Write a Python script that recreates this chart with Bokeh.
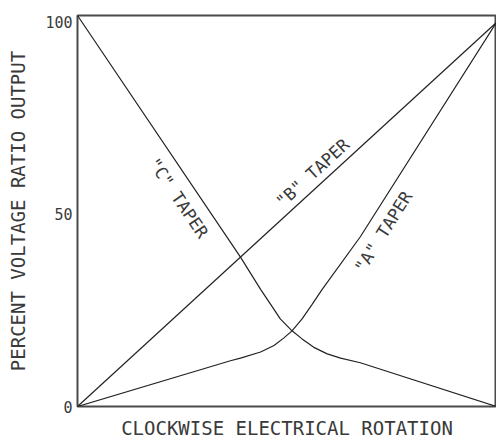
from bokeh.plotting import figure
from bokeh.models import Range1d, FixedTicker
from bokeh.core.properties import value
from bokeh.embed import file_html
from bokeh.resources import INLINE
import math

# ---- data (percent rotation vs percent output) ----
b_x = [0, 100]
b_taper = [0, 100]

a_x = [0, 36.5, 38.9, 43.7, 46.9, 49.2, 51.2, 53.6, 56.0, 58.4, 67.5, 100]
a_taper = [0, 11.9, 12.6, 14.2, 15.9, 17.8, 19.7, 22.8, 26.6, 30.5, 44.2, 100]

c_x = [0, 38.9, 43.7, 46.1, 48.4, 51.2, 53.6, 56.4, 59.6, 62.8, 67.5, 100]
c_taper = [101.8, 38.9, 30.5, 26.6, 22.8, 19.7, 17.6, 15.4, 13.7, 12.6, 11.4, 0]

y_ticks = [0, 50, 100]
x_title = "CLOCKWISE ELECTRICAL ROTATION"
y_title = "PERCENT VOLTAGE RATIO OUTPUT"
labels = ['"A" TAPER', '"B" TAPER', '"C" TAPER']

FONT = "DejaVu Sans Mono"
LINE = "#222222"
TXT = "#3a3a3a"

p = figure(width=496, height=441, output_backend="svg", toolbar_location=None,
           x_range=Range1d(0, 100), y_range=Range1d(0, 101.8),
           min_border_left=77, min_border_top=15, min_border_right=0, min_border_bottom=33)

p.background_fill_color = "white"
p.border_fill_color = "white"
p.outline_line_color = "#4a4a4a"
p.outline_line_width = 2
p.grid.visible = False

# axes
p.xaxis.ticker = FixedTicker(ticks=[])
p.yaxis.ticker = FixedTicker(ticks=y_ticks)
for ax in (p.xaxis[0], p.yaxis[0]):
    ax.axis_line_color = None
    ax.major_tick_line_color = None
    ax.minor_tick_line_color = None
    ax.major_tick_out = 0
    ax.major_tick_in = 0
    ax.minor_tick_out = 0
    ax.minor_tick_in = 0
    ax.major_label_text_font = FONT
    ax.major_label_text_font_size = "15px"
    ax.major_label_text_color = TXT
    ax.axis_label_text_font = FONT
    ax.axis_label_text_font_size = "19px"
    ax.axis_label_text_font_style = "normal"
    ax.axis_label_text_color = TXT
p.xaxis.axis_label = x_title
p.yaxis.axis_label = y_title
p.xaxis.axis_label_standoff = 10
p.yaxis.axis_label_standoff = 13
p.yaxis.major_label_standoff = 5

# curves
p.line(b_x, b_taper, line_color=LINE, line_width=1.2)
p.line(a_x, a_taper, line_color=LINE, line_width=1.2)
p.line(c_x, c_taper, line_color=LINE, line_width=1.2)

# curve labels
p.text(x=[73.0, 56.1, 24.1], y=[45.5, 60.8, 54.3], text=labels,
       angle=[math.radians(57.8), math.radians(42.6), math.radians(-55.8)],
       text_font=value(FONT), text_font_size="17px", text_color=TXT,
       text_align="center", text_baseline="middle")

open("out.html", "w").write(file_html(p, INLINE))
